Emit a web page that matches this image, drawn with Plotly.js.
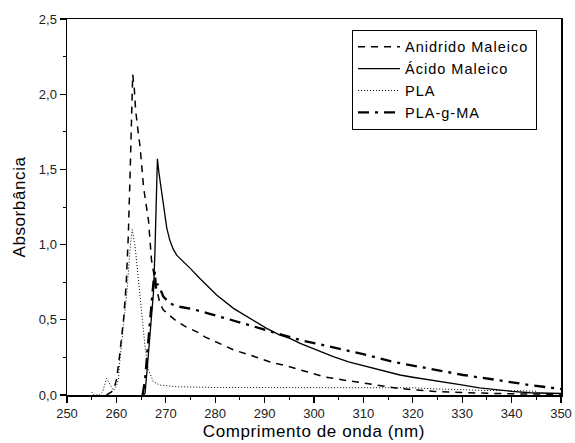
<!DOCTYPE html>
<html>
<head>
<meta charset="utf-8">
<script src="https://cdn.plot.ly/plotly-3.0.1.min.js"></script>
<style>
html,body{margin:0;padding:0;background:#fff;}
#chart{width:575px;height:443px;}
#chart .xtitle, #chart .ytitle{letter-spacing:0.6px;}
</style>
</head>
<body>
<div id="chart"></div>
<script>
// Anidrido Maleico (dashed)
const amX = [258, 259, 259.5, 260, 260.5, 261, 261.5, 262, 262.4, 262.8, 263.0, 263.3, 263.6, 263.9, 264.4, 264.8, 265.5, 266.0, 266.5, 266.8, 267.1, 267.8, 268.8, 269.5, 270.8, 272.2, 274, 276.3, 278, 280.3, 283.7, 287, 291.1, 294.8, 298.2, 302.2, 305.9, 309.7, 313.4, 317.1, 320.8, 324.5, 330, 335, 340, 345, 350];
const amY = [0, 0.02, 0.04, 0.1, 0.22, 0.38, 0.52, 0.75, 1.05, 1.5, 1.85, 2.13, 2.05, 1.89, 1.75, 1.65, 1.38, 1.27, 1.16, 1.03, 0.90, 0.76, 0.61, 0.565, 0.53, 0.49, 0.455, 0.42, 0.385, 0.35, 0.30, 0.266, 0.22, 0.19, 0.16, 0.12, 0.10, 0.082, 0.06, 0.044, 0.033, 0.024, 0.016, 0.011, 0.008, 0.006, 0.005];

// Ácido Maleico (solid)
const acX = [265.5, 265.8, 266.3, 266.8, 267.2, 267.5, 267.8, 268.1, 268.3, 268.6, 269.2, 269.7, 270.2, 270.8, 271.5, 272.2, 273.5, 275, 276.9, 278.5, 280.3, 283.7, 287, 290.4, 293, 295.1, 297.2, 300, 303.9, 307, 310.7, 314, 317.4, 320, 324.2, 327, 330.2, 333.5, 337, 340, 343.7, 347, 350];
const acY = [0, 0.01, 0.2, 0.4, 0.55, 0.68, 0.95, 1.35, 1.57, 1.48, 1.34, 1.22, 1.11, 1.03, 0.97, 0.93, 0.89, 0.84, 0.775, 0.72, 0.665, 0.576, 0.51, 0.443, 0.40, 0.377, 0.343, 0.305, 0.255, 0.22, 0.188, 0.16, 0.133, 0.118, 0.098, 0.083, 0.066, 0.048, 0.033, 0.024, 0.015, 0.012, 0.01];

// PLA (dotted)
const plaX = [255, 255.5, 256.5, 257.2, 258, 258.7, 259.4, 260, 260.4, 260.7, 261.4, 262.1, 262.8, 263.2, 263.8, 264.4, 265.1, 265.8, 266.5, 267.5, 268.8, 272.2, 280, 290, 300, 310, 320, 325, 330, 335, 340, 345];
const plaY = [0.02, 0, 0, 0.02, 0.11, 0.066, 0.03, 0.06, 0.1, 0.23, 0.45, 0.675, 0.985, 1.1, 0.985, 0.79, 0.54, 0.32, 0.166, 0.088, 0.066, 0.055, 0.05, 0.05, 0.05, 0.05, 0.048, 0.04, 0.033, 0.03, 0.03, 0.025];

// PLA-g-MA (dash-dot)
const pgX = [265.3, 265.8, 266.3, 266.8, 267.2, 267.5, 267.8, 268.0, 268.3, 268.8, 269.5, 270.8, 272.2, 275.6, 278.9, 282.3, 285.7, 289.1, 292.4, 295.8, 297.2, 302.6, 309.3, 316.1, 322.8, 330.2, 337, 343.7, 350];
const pgY = [0, 0.1, 0.3, 0.5, 0.65, 0.75, 0.82, 0.7, 0.74, 0.71, 0.655, 0.61, 0.59, 0.57, 0.54, 0.51, 0.476, 0.443, 0.41, 0.377, 0.365, 0.326, 0.277, 0.22, 0.177, 0.133, 0.10, 0.066, 0.04];

const names = ['Anidrido Maleico', 'Ácido Maleico', 'PLA', 'PLA-g-MA'];
const xTicks = [250, 260, 270, 280, 290, 300, 310, 320, 330, 340, 350];
const yTicks = [0, 0.5, 1.0, 1.5, 2.0, 2.5];
const yTickText = ['0,0', '0,5', '1,0', '1,5', '2,0', '2,5'];

const traces = [
  {x: amX, y: amY, name: names[0], mode: 'lines', line: {color: '#000', width: 1.5, dash: '7px,6px'}},
  {x: acX, y: acY, name: names[1], mode: 'lines', line: {color: '#000', width: 1.3}},
  {x: plaX, y: plaY, name: names[2], mode: 'lines', line: {color: '#000', width: 1, dash: '1px,2px'}},
  {x: pgX, y: pgY, name: names[3], mode: 'lines', line: {color: '#000', width: 2.3, dash: '11px,6px,3px,6px'}}
];

const layout = {
  width: 575, height: 443,
  margin: {l: 67, r: 14, t: 19, b: 48},
  paper_bgcolor: '#fff', plot_bgcolor: '#fff',
  font: {family: 'Liberation Sans, Arial, sans-serif', color: '#222', size: 13},
  showlegend: true,
  legend: {
    x: 0.577, y: 0.971, xanchor: 'left', yanchor: 'top',
    bordercolor: '#000', borderwidth: 1, bgcolor: '#fff',
    itemwidth: 42,
    font: {size: 14.5, color: '#000'}
  },
  xaxis: {
    range: [250, 350], tickvals: xTicks, ticktext: xTicks.map(String),
    showline: true, linecolor: '#000', linewidth: 1.5, mirror: true,
    ticks: 'outside', ticklen: 6, tickwidth: 1.2, tickcolor: '#000',
    minor: {dtick: 5, ticks: 'outside', ticklen: 3, tickcolor: '#000', tickwidth: 1},
    showgrid: false, zeroline: false,
    tickfont: {size: 13, color: '#222'},
    title: {text: 'Comprimento de onda (nm)', font: {size: 17, color: '#000'}, standoff: 5}
  },
  yaxis: {
    range: [0, 2.5], tickvals: yTicks, ticktext: yTickText,
    showline: true, linecolor: '#000', linewidth: 1.5, mirror: true,
    ticks: 'outside', ticklen: 6, tickwidth: 1.2, tickcolor: '#000',
    minor: {dtick: 0.25, ticks: 'outside', ticklen: 3, tickcolor: '#000', tickwidth: 1},
    showgrid: false, zeroline: false,
    tickfont: {size: 13, color: '#222'},
    title: {text: 'Absorbância', font: {size: 17, color: '#000'}, standoff: 9}
  }
};

Plotly.newPlot('chart', traces, layout, {displayModeBar: false, staticPlot: true}).then(function (gd) {
  // widen legend text spacing like the reference and grow its box (and clip) to fit
  const texts = gd.querySelectorAll('.legend .legendtext');
  let maxRight = 0;
  texts.forEach(function (t) {
    t.style.letterSpacing = '1px';
    const bb = t.getBBox();
    const tr = t.closest('.traces');
    let off = 0;
    if (tr) {
      const m = /translate\(([-\d.]+)/.exec(tr.getAttribute('transform') || '');
      if (m) off = parseFloat(m[1]);
    }
    maxRight = Math.max(maxRight, off + bb.x + bb.width);
  });
  const bg = gd.querySelector('.legend .bg');
  if (bg && maxRight > 0) {
    const need = maxRight + 8;
    const w = parseFloat(bg.getAttribute('width'));
    if (need > w) {
      bg.setAttribute('width', need);
      gd.querySelectorAll('clipPath[id^="legend"] rect').forEach(function (r) {
        r.setAttribute('width', need);
      });
      const sb = gd.querySelector('.legend .scrollbox');
      if (sb) sb.removeAttribute('clip-path');
    }
  }
});
</script>
</body>
</html>
